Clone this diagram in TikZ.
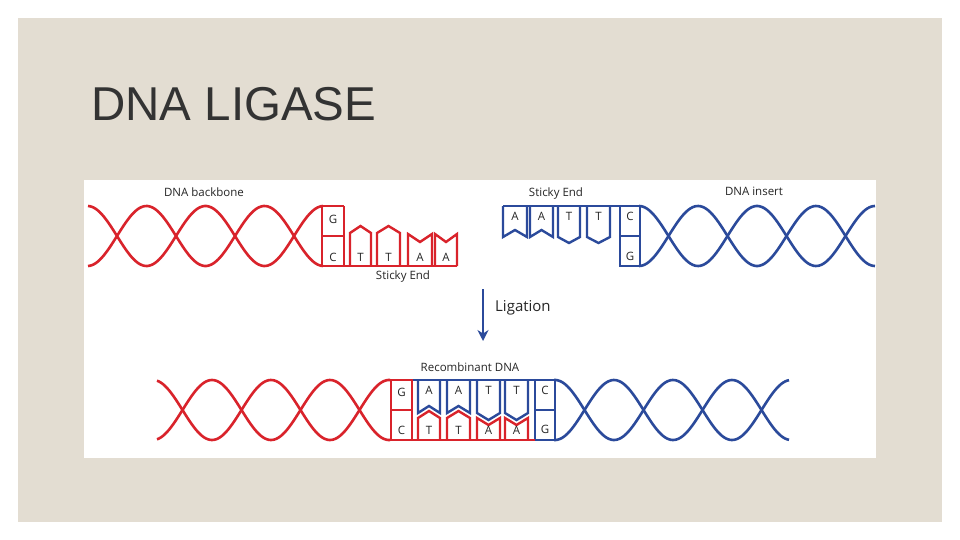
\documentclass[tikz,border=0pt]{standalone}
\usepackage{fontspec}
\setmainfont{Liberation Sans}
\newfontfamily\lbl{Open Sans}
\usetikzlibrary{arrows.meta}
\definecolor{bg}{HTML}{E3DDD2}
\definecolor{rd}{HTML}{D9232B}
\definecolor{bl}{HTML}{2B4A9B}
\definecolor{ttl}{HTML}{333333}
\begin{document}
\begin{tikzpicture}[x=1pt,y=-1pt,
  lab/.style={font=\lbl\fontsize{11.5}{13}\selectfont,text=black!85,inner sep=0},
  base/.style={font=\lbl\fontsize{11.5}{13}\selectfont,text=black!85,inner sep=0},
  R/.style={draw=rd,line width=2.4pt,line join=miter},
  B/.style={draw=bl,line width=2.4pt,line join=miter},
  hr/.style={draw=rd,line width=2.6pt},
  hb/.style={draw=bl,line width=2.6pt}]
\useasboundingbox (0,0) rectangle (960,540);
\fill[white] (0,0) rectangle (960,540);
\fill[bg] (18,18) rectangle (942,522);
\fill[white] (84,180) rectangle (876,458);
\node[anchor=base west,font=\fontsize{47.5}{50}\selectfont,text=ttl,inner sep=0] (title) at (91,121) {DNA LIGASE};
% ---- top left red
\draw[hr] plot[domain=88:323,samples=120] (\x,{236-30*cos(3.050847*(\x-87.5))});
\draw[hr] plot[domain=88:323,samples=120] (\x,{236+30*cos(3.050847*(\x-87.5))});
\draw[R] (323,206)--(344,206) (322,206)--(322,266) (344,206)--(344,266) (322,236)--(344,236) (323,266)--(457,266);
\foreach \a/\b in {350/371,377/400}{\draw[R] (\a,266)--(\a,233)--({(\a+\b)/2},226)--(\b,233)--(\b,266);}
\foreach \a/\b in {408/432,435/457}{\draw[R] (\a,266)--(\a,234)--({(\a+\b)/2},242)--(\b,234)--(\b,266);}
\node[base] (g1) at (333,219) {G};
\node[base] (c1) at (333,257) {C};
\node[base] (t1) at (360.5,257) {T};
\node[base] (t2) at (388.5,257) {T};
\node[base] (a1) at (420,257) {A};
\node[base] (a2) at (446,257) {A};
\node[lab] (bb) at (204,192) {DNA backbone};
\node[lab] (se1) at (403,277) {Sticky End};
% ---- top right blue
\draw[hb] plot[domain=639:875,samples=120] (\x,{236-30*cos(3.050847*(\x-639))});
\draw[hb] plot[domain=639:875,samples=120] (\x,{236+30*cos(3.050847*(\x-639))});
\draw[B] (503,206)--(640,206) (620,206)--(620,266) (640,206)--(640,266) (620,236)--(640,236) (619,266)--(640,266);
\foreach \a/\b in {503/527,530/553}{\draw[B] (\a,206)--(\a,237)--({(\a+\b)/2},230)--(\b,237)--(\b,206);}
\foreach \a/\b in {558/580,587/610}{\draw[B] (\a,206)--(\a,237)--({(\a+\b)/2},243)--(\b,237)--(\b,206);}
\node[base] (a3) at (515,216) {A};
\node[base] (a4) at (541.5,216) {A};
\node[base] (t3) at (569,216) {T};
\node[base] (t4) at (598.5,216) {T};
\node[base] (c2) at (630,216) {C};
\node[base] (g2) at (630,256) {G};
\node[lab] (se2) at (556,194) {Sticky End};
\node[lab] (ins) at (754,191) {DNA insert};
% ---- arrow
\coordinate (ar1) at (483,289);
\coordinate (ar2) at (483,341);
\draw[bl,line width=2pt,-{Stealth[length=11pt,width=11pt]}] (ar1)--(ar2);
\node[lab,font=\lbl\fontsize{15}{17}\selectfont,anchor=west] (lig) at (495,308) {Ligation};
% ---- bottom
\node[lab] (rec) at (470,367) {Recombinant DNA};
\draw[hr] plot[domain=157:390,samples=120] (\x,{410-30*cos(3.050847*(\x-389))});
\draw[hr] plot[domain=157:390,samples=120] (\x,{410+30*cos(3.050847*(\x-389))});
\draw[hb] plot[domain=554:789,samples=120] (\x,{410-30*cos(3.050847*(\x-555))});
\draw[hb] plot[domain=554:789,samples=120] (\x,{410+30*cos(3.050847*(\x-555))});
\draw[B] (412,380)--(556,380) (535,380)--(535,440) (555,380)--(555,440) (535,410)--(555,410) (533,440)--(556,440);
\draw[R] (389,380)--(413,380) (391,380)--(391,440) (412,380)--(412,440) (391,410)--(412,410) (389,440)--(535,440);
\foreach \a/\b in {418/440,447/470}{
  \draw[B] (\a,380)--(\a,413)--({(\a+\b)/2},406)--(\b,413)--(\b,380);
  \draw[R] (\a,440)--(\a,418)--({(\a+\b)/2},411)--(\b,418)--(\b,440);}
\foreach \a/\b in {477/500,505/528}{
  \draw[B] (\a,380)--(\a,413)--({(\a+\b)/2},420)--(\b,413)--(\b,380);
  \draw[R] (\a,440)--(\a,418)--({(\a+\b)/2},425)--(\b,418)--(\b,440);}
\node[base] (g3) at (401.5,392) {G};
\node[base] (c3) at (401.5,430) {C};
\node[base] (a5) at (429,390) {A};
\node[base] (a6) at (458.5,390) {A};
\node[base] (t5) at (488.5,390) {T};
\node[base] (t6) at (516.5,390) {T};
\node[base] (c4) at (545,390) {C};
\node[base] (g4) at (545,429) {G};
\node[base] (c5) at (429,430) {T};
\node[base] (c6) at (458.5,430) {T};
\node[base] (c7) at (488.5,430) {A};
\node[base] (c8) at (516.5,430) {A};
\end{tikzpicture}
\end{document}
